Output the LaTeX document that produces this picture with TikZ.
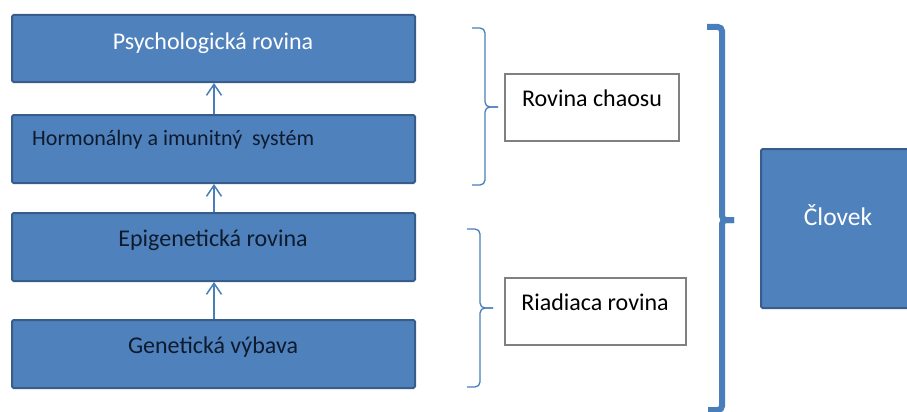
\documentclass[tikz,border=0pt]{standalone}
\usepackage{fontspec}
\setmainfont{Carlito}
\usetikzlibrary{arrows.meta}
\definecolor{boxfill}{HTML}{4F81BD}
\definecolor{boxline}{HTML}{385D8A}
\definecolor{linkblue}{HTML}{4A7EBB}
\definecolor{darktext}{HTML}{0E1B2E}
\definecolor{greyline}{HTML}{808080}
\begin{document}
\begin{tikzpicture}[x=1pt,y=-1pt,
  bluebox/.style={draw=boxline, fill=boxfill, line width=2pt, rounded corners=1.5pt, inner sep=0pt},
  whitebox/.style={draw=greyline, fill=white, line width=1.1pt, inner sep=0pt},
  labeltext/.style={inner sep=0pt, font=\fontsize{24}{28}\selectfont},
  smalltext/.style={inner sep=0pt, font=\fontsize{22}{26}\selectfont},
  bigtext/.style={inner sep=0pt, font=\fontsize{25.5}{30}\selectfont},
  uparrow/.style={draw=linkblue, line width=1.5pt, -{Straight Barb[length=11pt,width=15pt,line width=1.5pt]}},
  thinbrace/.style={draw=linkblue, line width=1.3pt, rounded corners=5pt},
  bigbrace/.style={draw=linkblue, line width=6pt, rounded corners=4pt}
]
\useasboundingbox (0,0) rectangle (907,412);

% left column of levels
\node[bluebox, minimum width=403pt, minimum height=67pt] (psy) at (213.5,48.5) {};
\node[labeltext, text=white] (psyt) at (213,43) {Psychologická rovina};

\node[bluebox, minimum width=403pt, minimum height=68pt] (hor) at (213.5,149) {};
\node[smalltext, text=darktext, anchor=west] (hort) at (32,140) {Hormonálny a imunitný\ \ systém};

\node[bluebox, minimum width=403pt, minimum height=68pt] (epi) at (213.5,247) {};
\node[labeltext, text=darktext] (epit) at (213,240) {Epigenetická rovina};

\node[bluebox, minimum width=403pt, minimum height=68pt] (gen) at (213.5,354) {};
\node[labeltext, text=darktext] (gent) at (213,347) {Genetická výbava};

% upward links
\draw[uparrow] (gen.north -| 214,0) -- (epi.south -| 214,0);
\draw[uparrow] (epi.north -| 214,0) -- (hor.south -| 214,0);
\draw[uparrow] (hor.north -| 214,0) -- (psy.south -| 214,0);

% grouping boxes
\node[whitebox, minimum width=174pt, minimum height=67pt] (chaos) at (592,107.5) {};
\node[labeltext, text=black] (chaost) at (592,98) {Rovina chaosu};

\node[whitebox, minimum width=181pt, minimum height=67pt] (riad) at (595.5,311.5) {};
\node[labeltext, text=black] (riadt) at (595,302) {Riadiaca rovina};

% thin braces
\draw[thinbrace] (472,28) -- (485,28) -- (485,107) -- (498,107);
\draw[thinbrace] (498,107) -- (485,107) -- (485,185) -- (472,185);
\draw[thinbrace] (467,229) -- (480,229) -- (480,308) -- (493,308);
\draw[thinbrace] (493,308) -- (480,308) -- (480,387) -- (467,387);

% big brace
\draw[bigbrace] (707,27) -- (722,27) -- (722,220) -- (734,220);
\draw[bigbrace] (734,220) -- (722,220) -- (722,410) -- (708,410);

% whole
\node[bluebox, minimum width=160pt, minimum height=159pt, anchor=north west] (clo) at (760,148) {};
\node[bigtext, text=white] (clot) at (838,215) {Človek};
\end{tikzpicture}
\end{document}
